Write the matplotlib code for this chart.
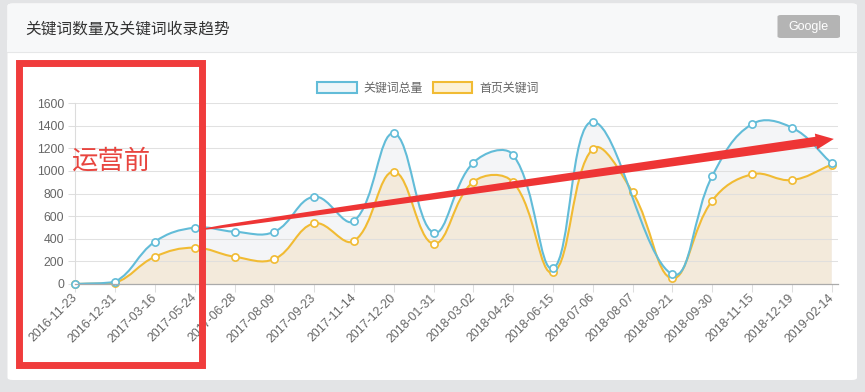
import numpy as np
import matplotlib
matplotlib.use('Agg')
import matplotlib.pyplot as plt
from matplotlib.path import Path
from matplotlib.patches import PathPatch, FancyBboxPatch, Rectangle, Polygon
from matplotlib.lines import Line2D

# ---------------- data ----------------
categories = ['2016-11-23', '2016-12-31', '2017-03-16', '2017-05-24', '2017-06-28',
              '2017-08-09', '2017-09-23', '2017-11-14', '2017-12-20', '2018-01-31',
              '2018-03-02', '2018-04-26', '2018-06-15', '2018-07-06', '2018-08-07',
              '2018-09-21', '2018-09-30', '2018-11-15', '2018-12-19', '2019-02-14']
total_keywords = [0, 20, 374, 498, 462, 462, 772, 557, 1332, 454,
                  1073, 1140, 138, 1435, None, 86, 955, 1414, 1382, 1067]
home_keywords = [0, 10, 241, 321, 241, 221, 536, 380, 993, 356,
                 904, 899, 103, 1196, 810, 50, 737, 970, 919, 1055]
series_names = ['关键词总量', '首页关键词']
y_ticks = [0, 200, 400, 600, 800, 1000, 1200, 1400, 1600]
title = '关键词数量及关键词收录趋势'
note = '运营前'

# ---------------- style ----------------
W, H = 865, 392
BLUE = '#62bcd8'
YELLOW = '#f1bb33'
BLUE_FILL = '#f4f5f7'
YELLOW_FILL = '#f3eadb'
RED = '#f03c3c'
CJK = ['Noto Sans CJK SC', 'DejaVu Sans']
LAT = ['Liberation Sans', 'DejaVu Sans']

fig = plt.figure(figsize=(W / 100, H / 100), dpi=100)
fig.patch.set_facecolor('#e3e4e6')


def fx(x):
    return x / W


def fy(y):
    return 1 - y / H


# panel
panel = FancyBboxPatch((fx(7.5), fy(380)), fx(857) - fx(7.5), fy(3.5) - fy(380),
                       boxstyle='round,pad=0,rounding_size=0.006', transform=fig.transFigure,
                       facecolor='white', edgecolor='none', zorder=-10)
fig.add_artist(panel)
header = FancyBboxPatch((fx(7.5), fy(51.5)), fx(857) - fx(7.5), fy(3.5) - fy(51.5),
                        boxstyle='round,pad=0,rounding_size=0.006', transform=fig.transFigure,
                        facecolor='#f7f8f9', edgecolor='none', zorder=-9)
fig.add_artist(header)
fig.add_artist(Rectangle((fx(7.5), fy(51.5)), fx(857) - fx(7.5), fy(40) - fy(51.5),
                         transform=fig.transFigure, facecolor='#f7f8f9', edgecolor='none', zorder=-9))
fig.add_artist(Line2D([fx(7.5), fx(857)], [fy(51.5), fy(51.5)], transform=fig.transFigure,
                      color='#e6e7e8', lw=0.8, zorder=-8))
fig.text(fx(25), fy(29), title, family=CJK, fontsize=11.3, color='#333333', ha='left', va='center')

# Google button
btn = FancyBboxPatch((fx(777.5), fy(38)), fx(840) - fx(777.5), fy(15) - fy(38),
                     boxstyle='round,pad=0,rounding_size=0.004', transform=fig.transFigure,
                     facecolor='#b4b4b4', edgecolor='none', zorder=-7)
fig.add_artist(btn)
fig.text(fx(808.5), fy(27), 'Google', family=LAT, fontsize=9, color='white', ha='center', va='center')

# ---------------- axes ----------------
x_left, x_right, y_top, y_bot = 75.3, 838.0, 103.0, 284.0
ax = fig.add_axes([fx(x_left), fy(y_bot), fx(x_right) - fx(x_left), fy(y_top) - fy(y_bot)])
ax.set_facecolor('none')
n = len(categories)
step_px = (831.7 - x_left) / (n - 1)
xmax = (n - 1) + (x_right - 831.7) / step_px
ax.set_xlim(0, xmax)
ax.set_ylim(y_ticks[0], y_ticks[-1])
sx = step_px
sy = (y_bot - y_top) / (y_ticks[-1] - y_ticks[0])


def chartjs_path(values, t=0.4, close=False):
    pts = [(i, v) for i, v in enumerate(values) if v is not None]
    P = np.array([(x * sx, y * sy) for x, y in pts], dtype=float)
    m = len(P)
    cps = []
    for i in range(m):
        cur = P[i]
        prev = P[i - 1] if i > 0 else cur
        nxt = P[i + 1] if i < m - 1 else cur
        d01 = np.hypot(*(cur - prev))
        d12 = np.hypot(*(nxt - cur))
        tot = d01 + d12
        s01 = d01 / tot if tot else 0.0
        s12 = d12 / tot if tot else 0.0
        cprev = cur - t * s01 * (nxt - prev)
        cnext = cur + t * s12 * (nxt - prev)
        cps.append((cprev, cnext))

    def to_data(p):
        x = min(max(p[0] / sx, 0), xmax)
        y = min(max(p[1] / sy, y_ticks[0]), y_ticks[-1])
        return (x, y)

    verts = [to_data(P[0])]
    codes = [Path.MOVETO]
    for i in range(1, m):
        verts += [to_data(cps[i - 1][1]), to_data(cps[i][0]), to_data(P[i])]
        codes += [Path.CURVE4] * 3
    if close:
        verts += [(pts[-1][0], 0), (pts[0][0], 0), (pts[0][0], 0)]
        codes += [Path.LINETO, Path.LINETO, Path.CLOSEPOLY]
    return Path(verts, codes), pts


# fills
bp, _ = chartjs_path(total_keywords, close=True)
ax.add_patch(PathPatch(bp, facecolor=BLUE_FILL, edgecolor='none', zorder=1))
yp, _ = chartjs_path(home_keywords, close=True)
ax.add_patch(PathPatch(yp, facecolor=YELLOW_FILL, edgecolor='none', zorder=1.2))

# grid
for v in y_ticks[1:]:
    ax.axhline(v, color='#dedede', lw=0.75, zorder=1.5, alpha=0.9)

# lines + markers
for vals, col, z in [(home_keywords, YELLOW, 3), (total_keywords, BLUE, 4)]:
    p, pts = chartjs_path(vals)
    ax.add_patch(PathPatch(p, facecolor='none', edgecolor=col, lw=1.5, zorder=z))
    xs = [a for a, b in pts]
    ys = [b for a, b in pts]
    ax.plot(xs, ys, linestyle='none', marker='o', markersize=5.2, markerfacecolor='white',
            markeredgecolor=col, markeredgewidth=1.2, zorder=z + 0.5, clip_on=False)

# axes styling
for s in ['top', 'right']:
    ax.spines[s].set_visible(False)
ax.spines['left'].set_color('#dcdcdc')
ax.spines['left'].set_linewidth(0.8)
ax.spines['bottom'].set_color('#aaaaaa')
ax.spines['bottom'].set_linewidth(0.9)
ax.spines['bottom'].set_zorder(5)
ax.set_yticks(y_ticks)
ax.set_yticklabels([str(v) for v in y_ticks], family=LAT, fontsize=8.8, color='#666666')
ax.set_xticks(range(n))
ax.set_xticklabels(categories, family=LAT, fontsize=8.9, color='#666666',
                   rotation=45, ha='right', va='center', rotation_mode='anchor')
ax.tick_params(axis='y', length=5, width=0.75, color='#dedede', pad=3)
ax.tick_params(axis='x', length=5.5, width=0.75, color='#dedede', pad=3)

# legend (manual, chart.js style)
lg_y = 87.8
for (x0, name, col, fc) in [(317, series_names[0], BLUE, '#eef6f9'),
                            (433, series_names[1], YELLOW, '#fcf1d6')]:
    fig.add_artist(Rectangle((fx(x0), fy(lg_y + 5)), fx(39.5), fy(0) - fy(10.5),
                             transform=fig.transFigure, facecolor=fc, edgecolor=col, lw=1.5))
    fig.text(fx(x0 + 46), fy(lg_y), name, family=CJK, fontsize=8.6, color='#666666',
             ha='left', va='center')

# ---------------- annotations (red box, note, arrow) ----------------
fig.add_artist(Rectangle((fx(18.8), fy(365)), fx(202.3) - fx(18.8), fy(62.5) - fy(365),
                         transform=fig.transFigure, fill=False, edgecolor=RED, lw=5.0, zorder=20))
fig.text(fx(111), fy(161), note, family=CJK, fontsize=19, color='#e8453f',
         ha='center', va='center', zorder=20)

p0 = np.array([205.0, 229.0])
pb = np.array([816.0, 141.5])
d = (pb - p0) / np.linalg.norm(pb - p0)
nrm = np.array([-d[1], d[0]])
L = np.linalg.norm(pb - p0)
ss = np.linspace(0, 1, 40)
half = (1.5 + 8.0 * np.sqrt(ss)) / 2
upper = [p0 + s * (pb - p0) + h * nrm for s, h in zip(ss, half)]
lower = [p0 + s * (pb - p0) - h * nrm for s, h in zip(ss, half)]
tip = pb + d * 18
head = [pb + 8 * nrm, tip, pb - 8 * nrm]
poly_px = upper + [head[0], head[1], head[2]] + lower[::-1]
poly = [(fx(px), fy(py)) for px, py in poly_px]
fig.add_artist(Polygon(poly, closed=True, transform=fig.transFigure, facecolor='#ee3535',
                       edgecolor='none', zorder=21))

fig.savefig('out.png', dpi=100, facecolor=fig.get_facecolor())
